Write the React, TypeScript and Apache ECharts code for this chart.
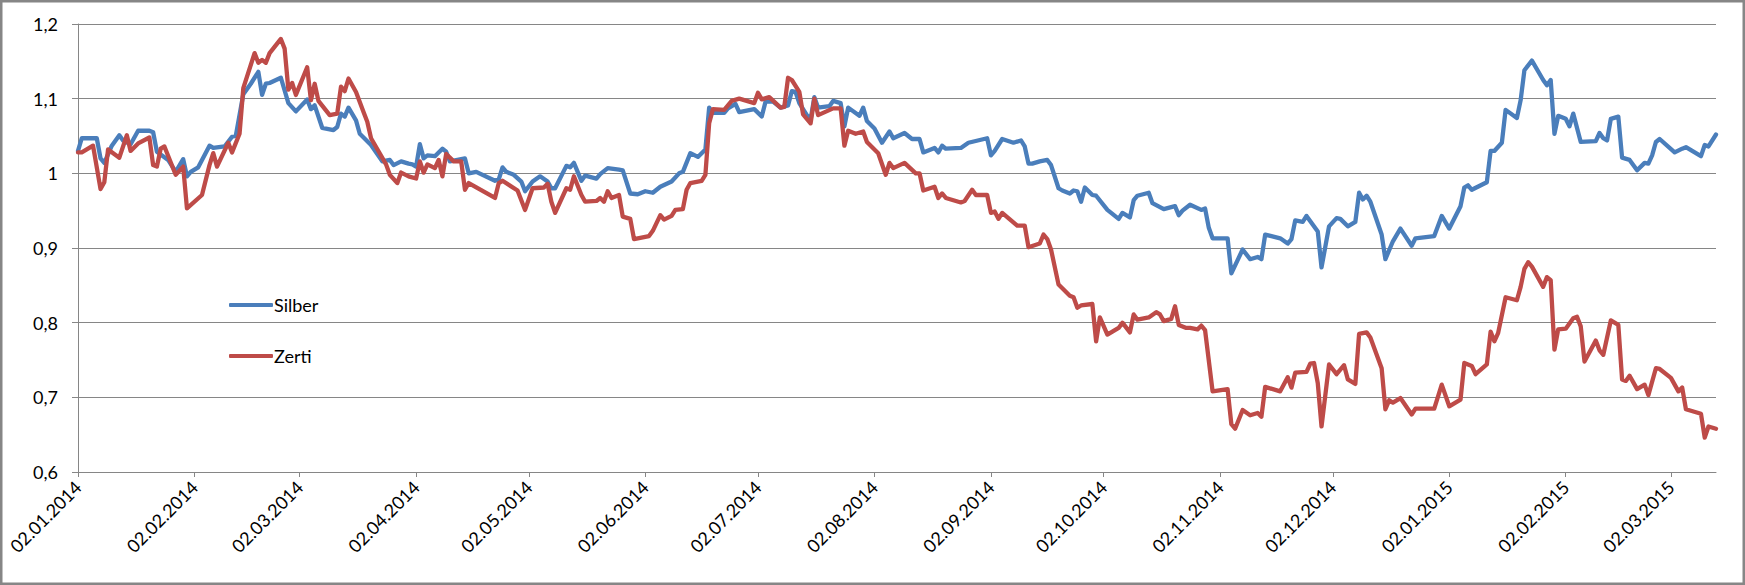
import React, { useEffect, useRef } from "react";
import * as echarts from "echarts";

// Axis span (date axis, one category per calendar day)
const FIRST_DAY = "02.01.2014";
const LAST_DAY = "14.03.2015";

const yTicks = [0.6, 0.7, 0.8, 0.9, 1.0, 1.1, 1.2];

const seriesNames = ["Silber", "Zerti"];

const silberDates = [
  "02.01.2014","03.01.2014","07.01.2014","08.01.2014","09.01.2014","11.01.2014","13.01.2014","14.01.2014","16.01.2014","18.01.2014",
  "21.01.2014","22.01.2014","23.01.2014","26.01.2014","28.01.2014","30.01.2014","31.01.2014","01.02.2014","03.02.2014","06.02.2014",
  "07.02.2014","10.02.2014","12.02.2014","13.02.2014","15.02.2014","17.02.2014","19.02.2014","20.02.2014","21.02.2014","22.02.2014",
  "25.02.2014","27.02.2014","01.03.2014","04.03.2014","05.03.2014","06.03.2014","08.03.2014","11.03.2014","12.03.2014","13.03.2014",
  "14.03.2014","15.03.2014","17.03.2014","18.03.2014","21.03.2014","24.03.2014","26.03.2014","27.03.2014","29.03.2014","31.03.2014",
  "01.04.2014","02.04.2014","03.04.2014","04.04.2014","05.04.2014","07.04.2014","09.04.2014","10.04.2014","11.04.2014","13.04.2014",
  "15.04.2014","16.04.2014","18.04.2014","23.04.2014","24.04.2014","25.04.2014","26.04.2014","28.04.2014","30.04.2014","01.05.2014",
  "03.05.2014","05.05.2014","07.05.2014","08.05.2014","09.05.2014","12.05.2014","13.05.2014","14.05.2014","16.05.2014","17.05.2014",
  "20.05.2014","21.05.2014","23.05.2014","26.05.2014","27.05.2014","29.05.2014","31.05.2014","02.06.2014","04.06.2014","06.06.2014",
  "09.06.2014","11.06.2014","12.06.2014","14.06.2014","16.06.2014","18.06.2014","19.06.2014","20.06.2014","23.06.2014","24.06.2014",
  "26.06.2014","27.06.2014","01.07.2014","03.07.2014","04.07.2014","06.07.2014","08.07.2014","10.07.2014","11.07.2014","12.07.2014",
  "13.07.2014","15.07.2014","16.07.2014","17.07.2014","18.07.2014","21.07.2014","22.07.2014","24.07.2014","25.07.2014","26.07.2014",
  "29.07.2014","30.07.2014","31.07.2014","02.08.2014","04.08.2014","06.08.2014","07.08.2014","10.08.2014","12.08.2014","14.08.2014",
  "15.08.2014","18.08.2014","19.08.2014","20.08.2014","21.08.2014","25.08.2014","27.08.2014","01.09.2014","02.09.2014","03.09.2014",
  "05.09.2014","08.09.2014","10.09.2014","11.09.2014","12.09.2014","13.09.2014","15.09.2014","17.09.2014","18.09.2014","20.09.2014",
  "21.09.2014","23.09.2014","24.09.2014","25.09.2014","26.09.2014","27.09.2014","29.09.2014","30.09.2014","03.10.2014","06.10.2014",
  "07.10.2014","09.10.2014","10.10.2014","11.10.2014","14.10.2014","15.10.2014","18.10.2014","21.10.2014","22.10.2014","23.10.2014",
  "25.10.2014","28.10.2014","29.10.2014","30.10.2014","31.10.2014","04.11.2014","05.11.2014","08.11.2014","10.11.2014","12.11.2014",
  "13.11.2014","14.11.2014","18.11.2014","20.11.2014","21.11.2014","22.11.2014","24.11.2014","25.11.2014","28.11.2014","29.11.2014",
  "01.12.2014","03.12.2014","04.12.2014","06.12.2014","08.12.2014","09.12.2014","10.12.2014","11.12.2014","12.12.2014","15.12.2014",
  "16.12.2014","18.12.2014","20.12.2014","23.12.2014","24.12.2014","29.12.2014","31.12.2014","02.01.2015","05.01.2015","06.01.2015",
  "07.01.2015","08.01.2015","12.01.2015","13.01.2015","14.01.2015","16.01.2015","17.01.2015","20.01.2015","21.01.2015","22.01.2015",
  "24.01.2015","27.01.2015","28.01.2015","29.01.2015","30.01.2015","31.01.2015","02.02.2015","03.02.2015","04.02.2015","06.02.2015",
  "10.02.2015","11.02.2015","12.02.2015","13.02.2015","14.02.2015","16.02.2015","17.02.2015","19.02.2015","21.02.2015","23.02.2015",
  "24.02.2015","25.02.2015","26.02.2015","27.02.2015","03.03.2015","05.03.2015","06.03.2015","10.03.2015","11.03.2015","12.03.2015",
  "14.03.2015"
];
const silberValues = [
  1.030,1.047,1.047,1.020,1.014,1.037,1.051,1.044,1.039,1.057,
  1.057,1.055,1.029,1.018,1.002,1.019,0.996,1.002,1.008,1.037,
  1.034,1.036,1.049,1.050,1.106,1.120,1.136,1.105,1.120,1.121,
  1.128,1.094,1.083,1.099,1.086,1.091,1.061,1.058,1.062,1.080,
  1.076,1.088,1.071,1.053,1.038,1.016,1.018,1.011,1.016,1.013,
  1.012,1.009,1.039,1.020,1.024,1.023,1.033,1.029,1.016,1.018,
  1.020,1.000,1.002,0.990,0.992,1.008,1.002,0.998,0.989,0.976,
  0.989,0.996,0.989,0.980,0.980,1.010,1.008,1.014,0.990,0.997,
  0.993,0.999,1.007,1.005,1.004,0.973,0.972,0.976,0.974,0.982,
  0.989,1.000,1.002,1.027,1.022,1.032,1.088,1.081,1.081,1.087,
  1.093,1.082,1.086,1.076,1.096,1.096,1.088,1.091,1.110,1.109,
  1.094,1.078,1.072,1.102,1.088,1.090,1.097,1.094,1.063,1.088,
  1.077,1.088,1.070,1.060,1.041,1.056,1.047,1.054,1.046,1.046,
  1.028,1.034,1.028,1.037,1.033,1.034,1.041,1.047,1.024,1.030,
  1.046,1.041,1.044,1.036,1.013,1.013,1.016,1.018,1.011,0.980,
  0.977,0.973,0.977,0.976,0.962,0.981,0.971,0.970,0.951,0.939,
  0.947,0.941,0.964,0.970,0.974,0.960,0.952,0.956,0.944,0.950,
  0.958,0.951,0.953,0.927,0.913,0.913,0.866,0.898,0.885,0.888,
  0.885,0.918,0.913,0.906,0.912,0.937,0.935,0.943,0.922,0.874,
  0.929,0.940,0.939,0.929,0.935,0.974,0.965,0.970,0.962,0.918,
  0.885,0.909,0.926,0.903,0.913,0.916,0.943,0.926,0.956,0.981,
  0.984,0.978,0.988,1.030,1.030,1.041,1.085,1.074,1.098,1.138,
  1.151,1.125,1.118,1.125,1.053,1.077,1.073,1.063,1.080,1.042,
  1.043,1.054,1.047,1.044,1.073,1.076,1.021,1.018,1.004,1.014,
  1.013,1.024,1.042,1.046,1.028,1.033,1.035,1.023,1.038,1.036,
  1.052
];

const zertiDates = [
  "02.01.2014","03.01.2014","06.01.2014","08.01.2014","09.01.2014","10.01.2014","13.01.2014","15.01.2014","16.01.2014","18.01.2014",
  "21.01.2014","22.01.2014","23.01.2014","24.01.2014","25.01.2014","28.01.2014","30.01.2014","31.01.2014","04.02.2014","06.02.2014",
  "07.02.2014","08.02.2014","11.02.2014","12.02.2014","14.02.2014","15.02.2014","18.02.2014","19.02.2014","20.02.2014","21.02.2014",
  "22.02.2014","25.02.2014","26.02.2014","27.02.2014","28.02.2014","01.03.2014","04.03.2014","05.03.2014","06.03.2014","07.03.2014",
  "10.03.2014","12.03.2014","13.03.2014","14.03.2014","15.03.2014","17.03.2014","19.03.2014","20.03.2014","21.03.2014","25.03.2014",
  "26.03.2014","28.03.2014","29.03.2014","31.03.2014","02.04.2014","03.04.2014","04.04.2014","05.04.2014","07.04.2014","08.04.2014",
  "09.04.2014","10.04.2014","12.04.2014","14.04.2014","15.04.2014","16.04.2014","23.04.2014","24.04.2014","25.04.2014","29.04.2014",
  "01.05.2014","03.05.2014","06.05.2014","07.05.2014","08.05.2014","09.05.2014","12.05.2014","13.05.2014","14.05.2014","16.05.2014",
  "17.05.2014","20.05.2014","21.05.2014","22.05.2014","23.05.2014","24.05.2014","26.05.2014","27.05.2014","29.05.2014","30.05.2014",
  "03.06.2014","04.06.2014","06.06.2014","07.06.2014","09.06.2014","10.06.2014","12.06.2014","13.06.2014","14.06.2014","17.06.2014",
  "18.06.2014","19.06.2014","20.06.2014","23.06.2014","25.06.2014","27.06.2014","01.07.2014","02.07.2014","03.07.2014","05.07.2014",
  "08.07.2014","09.07.2014","10.07.2014","11.07.2014","13.07.2014","14.07.2014","16.07.2014","17.07.2014","18.07.2014","22.07.2014",
  "24.07.2014","25.07.2014","26.07.2014","28.07.2014","30.07.2014","31.07.2014","03.08.2014","05.08.2014","06.08.2014","07.08.2014",
  "10.08.2014","13.08.2014","14.08.2014","15.08.2014","18.08.2014","19.08.2014","20.08.2014","21.08.2014","25.08.2014","26.08.2014",
  "28.08.2014","29.08.2014","01.09.2014","02.09.2014","03.09.2014","04.09.2014","05.09.2014","09.09.2014","11.09.2014","12.09.2014",
  "15.09.2014","16.09.2014","17.09.2014","18.09.2014","20.09.2014","23.09.2014","24.09.2014","25.09.2014","26.09.2014","29.09.2014",
  "30.09.2014","01.10.2014","03.10.2014","06.10.2014","07.10.2014","09.10.2014","10.10.2014","11.10.2014","14.10.2014","16.10.2014",
  "17.10.2014","18.10.2014","20.10.2014","21.10.2014","22.10.2014","24.10.2014","25.10.2014","27.10.2014","28.10.2014","29.10.2014",
  "31.10.2014","04.11.2014","05.11.2014","06.11.2014","08.11.2014","10.11.2014","12.11.2014","13.11.2014","14.11.2014","18.11.2014",
  "20.11.2014","21.11.2014","22.11.2014","25.11.2014","26.11.2014","27.11.2014","28.11.2014","29.11.2014","01.12.2014","03.12.2014",
  "05.12.2014","06.12.2014","08.12.2014","09.12.2014","11.12.2014","12.12.2014","15.12.2014","16.12.2014","17.12.2014","18.12.2014",
  "20.12.2014","23.12.2014","24.12.2014","29.12.2014","31.12.2014","02.01.2015","05.01.2015","06.01.2015","08.01.2015","09.01.2015",
  "12.01.2015","13.01.2015","14.01.2015","15.01.2015","17.01.2015","20.01.2015","21.01.2015","22.01.2015","23.01.2015","24.01.2015",
  "27.01.2015","28.01.2015","29.01.2015","30.01.2015","31.01.2015","02.02.2015","04.02.2015","05.02.2015","06.02.2015","07.02.2015",
  "10.02.2015","11.02.2015","12.02.2015","14.02.2015","16.02.2015","17.02.2015","18.02.2015","19.02.2015","21.02.2015","23.02.2015",
  "24.02.2015","26.02.2015","27.02.2015","02.03.2015","04.03.2015","05.03.2015","06.03.2015","10.03.2015","11.03.2015","12.03.2015",
  "14.03.2015"
];
const zertiValues = [
  1.028,1.028,1.037,0.979,0.988,1.032,1.021,1.051,1.030,1.040,
  1.048,1.011,1.009,1.033,1.036,0.998,1.009,0.953,0.971,1.011,
  1.027,1.009,1.041,1.028,1.053,1.114,1.161,1.148,1.152,1.148,
  1.161,1.180,1.167,1.112,1.121,1.105,1.142,1.098,1.120,1.097,
  1.078,1.080,1.116,1.110,1.127,1.109,1.082,1.069,1.047,1.012,
  0.998,0.987,1.001,0.996,0.993,1.016,1.001,1.012,1.007,1.018,
  0.996,1.026,1.016,1.016,0.978,0.987,0.967,0.987,0.990,0.977,
  0.951,0.980,0.981,0.986,0.962,0.947,0.980,0.978,0.996,0.971,
  0.962,0.963,0.967,0.962,0.976,0.967,0.971,0.942,0.939,0.912,
  0.916,0.923,0.944,0.938,0.943,0.951,0.952,0.978,0.987,0.990,
  0.998,1.067,1.086,1.085,1.097,1.100,1.094,1.108,1.099,1.102,
  1.088,1.089,1.128,1.125,1.109,1.079,1.067,1.100,1.078,1.087,
  1.087,1.037,1.057,1.053,1.056,1.042,1.027,0.998,1.014,1.007,
  1.014,1.000,1.000,0.977,0.982,0.967,0.973,0.967,0.961,0.963,
  0.978,0.971,0.971,0.947,0.949,0.939,0.947,0.930,0.930,0.901,
  0.906,0.918,0.912,0.898,0.851,0.836,0.834,0.820,0.823,0.825,
  0.775,0.807,0.784,0.793,0.800,0.787,0.811,0.804,0.807,0.814,
  0.811,0.802,0.805,0.822,0.797,0.793,0.793,0.791,0.796,0.790,
  0.708,0.711,0.664,0.658,0.683,0.676,0.679,0.674,0.714,0.708,
  0.727,0.713,0.733,0.734,0.745,0.746,0.719,0.661,0.744,0.731,
  0.743,0.724,0.718,0.785,0.787,0.780,0.739,0.684,0.696,0.693,
  0.699,0.677,0.685,0.685,0.717,0.688,0.697,0.746,0.742,0.731,
  0.744,0.788,0.775,0.786,0.834,0.830,0.848,0.872,0.881,0.875,
  0.848,0.861,0.857,0.764,0.791,0.792,0.806,0.808,0.795,0.748,
  0.776,0.763,0.757,0.803,0.797,0.724,0.722,0.729,0.711,0.717,
  0.703,0.739,0.738,0.726,0.708,0.713,0.684,0.678,0.646,0.661,
  0.658
];

function parseDay(s: string): number {
  const [d, m, y] = s.split(".").map(Number);
  return Date.UTC(y, m - 1, d);
}
function fmtDay(t: number): string {
  const dt = new Date(t);
  const dd = String(dt.getUTCDate()).padStart(2, "0");
  const mm = String(dt.getUTCMonth() + 1).padStart(2, "0");
  return `${dd}.${mm}.${dt.getUTCFullYear()}`;
}
function buildCategories(): string[] {
  const out: string[] = [];
  const end = parseDay(LAST_DAY);
  for (let t = parseDay(FIRST_DAY); t <= end; t += 86400000) out.push(fmtDay(t));
  return out;
}

const FONT = "Lato, 'Open Sans', sans-serif";
const GRID_COLOR = "#868686";

export default function App() {
  const ref = useRef<HTMLDivElement>(null);
  useEffect(() => {
    document.body.style.margin = "0";
    if (!ref.current) return;
    const chart = echarts.init(ref.current, undefined, { renderer: "svg" });
    const categories = buildCategories();
    const isMonthTick = (_i: number, v: string) => v.startsWith("02.");
    chart.setOption({
      animation: false,
      backgroundColor: "#ffffff",
      textStyle: { fontFamily: FONT },
      grid: { left: 78, right: 29, top: 24, bottom: 113 },
      graphic: [
        {
          type: "rect",
          shape: { x: 1.25, y: 1.25, width: 1745 - 2.5, height: 585 - 2.5 },
          style: { fill: "none", stroke: GRID_COLOR, lineWidth: 2.5 },
          silent: true,
        },
      ],
      legend: {
        orient: "vertical",
        left: 224,
        top: 289,
        itemWidth: 44,
        itemHeight: 4,
        itemGap: 29,
        icon: "roundRect",
        textStyle: { fontFamily: FONT, fontSize: 18, color: "#000", lineHeight: 22, padding: [0, 0, 0, -4] },
        data: seriesNames,
      },
      xAxis: {
        type: "category",
        data: categories,
        boundaryGap: false,
        axisLine: { lineStyle: { color: GRID_COLOR, width: 1 } },
        axisTick: { show: true, interval: isMonthTick, length: 5, lineStyle: { color: GRID_COLOR } },
        axisLabel: {
          interval: isMonthTick,
          rotate: 45,
          margin: 12,
          fontFamily: FONT,
          fontSize: 18,
          color: "#000",
        },
        splitLine: { show: false },
      },
      yAxis: {
        type: "value",
        min: yTicks[0],
        max: yTicks[yTicks.length - 1],
        interval: 0.1,
        axisLine: { show: true, lineStyle: { color: GRID_COLOR, width: 1 } },
        axisTick: { show: true, length: 6, lineStyle: { color: GRID_COLOR } },
        axisLabel: {
          margin: 20,
          fontFamily: FONT,
          fontSize: 18,
          color: "#000",
          formatter: (v: number) => String(Math.round(v * 10) / 10).replace(".", ","),
        },
        splitLine: { show: true, lineStyle: { color: GRID_COLOR, width: 1 } },
      },
      series: [
        {
          name: seriesNames[0],
          type: "line",
          symbol: "none",
          data: silberDates.map((d, i) => [d, silberValues[i]]),
          lineStyle: { color: "#4A7EBB", width: 4.3, cap: "round", join: "round" },
          itemStyle: { color: "#4A7EBB" },
          z: 3,
        },
        {
          name: seriesNames[1],
          type: "line",
          symbol: "none",
          data: zertiDates.map((d, i) => [d, zertiValues[i]]),
          lineStyle: { color: "#BE4B48", width: 4.3, cap: "round", join: "round" },
          itemStyle: { color: "#BE4B48" },
          z: 4,
        },
      ],
    });
    return () => chart.dispose();
  }, []);
  return <div ref={ref} style={{ width: 1745, height: 585 }} />;
}
